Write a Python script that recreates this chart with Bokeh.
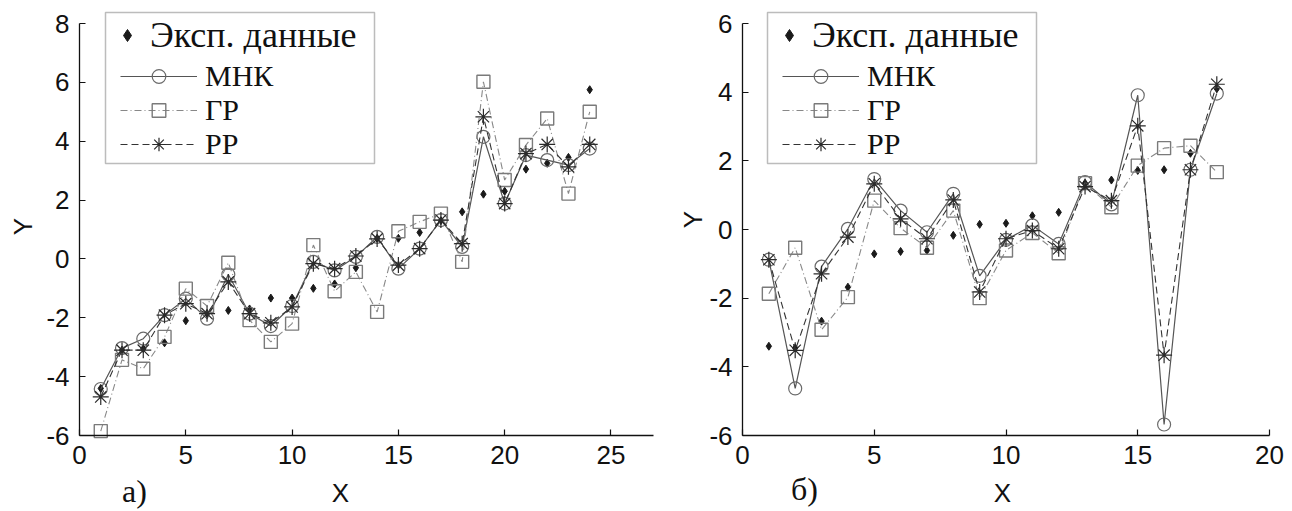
from bokeh.plotting import figure
from bokeh.layouts import row
from bokeh.models import Range1d, Legend, LegendItem, Label, FixedTicker, BoxAnnotation
from bokeh.embed import file_html
from bokeh.resources import INLINE

# ---- data: panel а) ----
x_a = list(range(1, 25))
exp_a = [-4.4, -3.1, -3.05, -2.85, -2.1, -1.85, -1.75, -1.7, -1.33, -1.33, -1.0, -0.85,
         -0.3, 0.7, 0.7, 0.9, 1.3, 1.6, 2.2, 2.3, 3.05, 3.25, 3.45, 5.75]
mnk_a = [-4.42, -3.03, -2.71, -1.91, -1.35, -2.03, -0.53, -1.86, -2.28, -1.6, -0.1, -0.39,
         0.07, 0.75, -0.33, 0.35, 1.32, 0.41, 4.15, 1.88, 3.53, 3.36, 3.19, 3.75]
gr_a = [-5.85, -3.43, -3.73, -2.65, -1.01, -1.6, -0.13, -2.08, -2.82, -2.2, 0.47, -1.1,
        -0.44, -1.8, 0.94, 1.26, 1.54, -0.1, 6.02, 2.68, 3.87, 4.77, 2.22, 5.0]
rr_a = [-4.69, -3.1, -3.1, -1.91, -1.52, -1.86, -0.78, -1.86, -2.17, -1.63, -0.16, -0.33,
        0.1, 0.68, -0.21, 0.35, 1.32, 0.52, 4.83, 1.88, 3.58, 3.89, 3.13, 3.89]
xticks_a = [0, 5, 10, 15, 20, 25]
yticks_a = [-6, -4, -2, 0, 2, 4, 6, 8]

# ---- data: panel б) ----
x_b = list(range(1, 19))
exp_b = [-3.4, -3.45, -2.67, -1.68, -0.71, -0.64, -0.61, -0.17, 0.15, 0.18, 0.4, 0.5,
         1.35, 1.44, 1.72, 1.74, 2.22, 4.1]
mnk_b = [-0.88, -4.63, -1.08, 0.02, 1.47, 0.55, -0.08, 1.04, -1.35, -0.3, 0.12, -0.42,
         1.38, 0.73, 3.91, -5.68, 1.74, 3.96]
gr_b = [-1.87, -0.53, -2.92, -1.97, 0.84, 0.04, -0.53, 0.55, -2.0, -0.61, -0.1, -0.69,
        1.35, 0.65, 1.86, 2.37, 2.44, 1.67]
rr_b = [-0.88, -3.52, -1.29, -0.22, 1.33, 0.31, -0.27, 0.86, -1.82, -0.27, -0.03, -0.56,
        1.25, 0.84, 3.02, -3.66, 1.74, 4.23]
xticks_b = [0, 5, 10, 15, 20]
yticks_b = [-6, -4, -2, 0, 2, 4, 6]

labels = ["Эксп. данные", "МНК", "ГР", "РР"]

SANS = "Liberation Sans"
SERIF = "Liberation Serif"
H = 511


def panel(xs, exp, mnk, gr, rr, xmax, ymin, ymax, xt, yt, width,
          ax_left, ax_right, ax_top, ax_bottom, tag, tag_px, xlab_px, ylab_px, leg_left):
    # axes box in pixels inside this figure -> data ranges spanning the whole figure
    sx = (ax_right - ax_left) / xmax
    sy = (ax_bottom - ax_top) / (ymax - ymin)
    x0 = -ax_left / sx
    x1 = xmax + (width - ax_right) / sx
    y1 = ymax + ax_top / sy
    y0 = ymin - (H - ax_bottom) / sy

    def dx(px):
        return (px - ax_left) / sx

    def dy(py):
        return ymax - (py - ax_top) / sy

    p = figure(width=width, height=H, x_range=Range1d(x0, x1), y_range=Range1d(y0, y1),
               output_backend="svg", toolbar_location=None,
               min_border_left=0, min_border_right=0, min_border_top=0, min_border_bottom=0)
    p.grid.visible = False
    p.outline_line_color = None
    p.background_fill_color = "white"
    p.border_fill_color = "white"
    p.xaxis.ticker = FixedTicker(ticks=xt)
    p.yaxis.ticker = FixedTicker(ticks=yt)
    p.xaxis.fixed_location = ymin
    p.yaxis.fixed_location = 0
    p.xaxis.bounds = (0, xmax)
    p.yaxis.bounds = (ymin, ymax)
    p.xaxis.major_label_overrides = {t: str(t) for t in xt}
    p.yaxis.major_label_overrides = {t: str(t) for t in yt}
    for ax in (p.xaxis, p.yaxis):
        ax.major_tick_in = 6
        ax.major_tick_out = 0
        ax.minor_tick_line_color = None
        ax.axis_line_color = "#111111"
        ax.axis_line_width = 1.3
        ax.major_tick_line_color = "#111111"
        ax.major_tick_line_width = 1.2
        ax.major_label_text_font = SANS
        ax.major_label_text_font_size = "26px"
        ax.major_label_text_color = "#111111"
        ax.major_label_standoff = 10

    # legend frame
    p.add_layout(BoxAnnotation(left=dx(leg_left), right=dx(leg_left + 269),
                               top=dy(12), bottom=dy(163),
                               fill_color="white", fill_alpha=1.0,
                               line_color="#222222", line_width=1.5, level="underlay"))

    r_exp = p.scatter(xs, exp, marker="diamond", size=8, color="#1a1a1a")
    l_mnk = p.line(xs, mnk, line_color="#555555", line_width=1.2)
    m_mnk = p.scatter(xs, mnk, marker="circle", size=13, fill_color=None,
                      line_color="#6a6a6a", line_width=1.2)
    l_gr = p.line(xs, gr, line_color="#888888", line_width=1.1, line_dash="7 3 1 3")
    m_gr = p.scatter(xs, gr, marker="square", size=13, fill_color=None,
                     line_color="#7a7a7a", line_width=1.4)
    l_rr = p.line(xs, rr, line_color="#333333", line_width=1.1, line_dash="7 4")
    m_rr = p.scatter(xs, rr, marker="asterisk", size=16, line_color="#2a2a2a", line_width=1.2)

    # one legend per row so that each row sits where the reference puts it
    rows = [
        ([r_exp], labels[0], "36px", 35, leg_left + 7, 30, 42),
        ([l_mnk, m_mnk], labels[1], "30px", 76, leg_left + 15, 77, 34),
        ([l_gr, m_gr], labels[2], "30px", 110, leg_left + 15, 77, 34),
        ([l_rr, m_rr], labels[3], "30px", 144, leg_left + 15, 77, 34),
    ]
    for rends, lab, fs, cy, lx, gw, rh in rows:
        lg = Legend(items=[LegendItem(label=lab, renderers=rends)],
                    location=(lx, H - (cy + rh / 2)))
        lg.label_text_font = SERIF
        lg.label_text_font_size = fs
        lg.label_text_color = "#111111"
        lg.glyph_width = gw
        lg.glyph_height = rh
        lg.label_height = rh
        lg.spacing = 0
        lg.padding = 0
        lg.margin = 0
        lg.label_standoff = 8
        lg.border_line_color = None
        lg.background_fill_alpha = 0.0
        p.add_layout(lg)

    p.add_layout(Label(x=dx(tag_px[0]), y=dy(tag_px[1]), text=tag, text_font=SERIF,
                       text_font_size="32px", text_color="#111111",
                       text_align="center", text_baseline="middle"))
    p.add_layout(Label(x=dx(xlab_px[0]), y=dy(xlab_px[1]), text="X", text_font=SANS,
                       text_font_size="26px", text_color="#111111",
                       text_align="center", text_baseline="middle"))
    p.add_layout(Label(x=dx(ylab_px[0]), y=dy(ylab_px[1]), text="Y", text_font=SANS,
                       text_font_size="26px", text_color="#111111", angle=90,
                       angle_units="deg", text_align="center", text_baseline="middle"))
    return p


WA = 662
pa = panel(x_a, exp_a, mnk_a, gr_a, rr_a, 27, -6, 8, xticks_a, yticks_a, WA,
           79, 653, 23, 435, "а)", (134, 490), (340, 492), (22, 226), 105)
pb = panel(x_b, exp_b, mnk_b, gr_b, rr_b, 20, -6, 6, xticks_b, yticks_b, 1292 - WA,
           742 - WA, 1269 - WA, 23, 435, "б)", (804 - WA, 488), (1002 - WA, 492),
           (692 - WA, 219), 767 - WA)

layout = row(pa, pb)
open("out.html", "w").write(file_html(layout, INLINE))
